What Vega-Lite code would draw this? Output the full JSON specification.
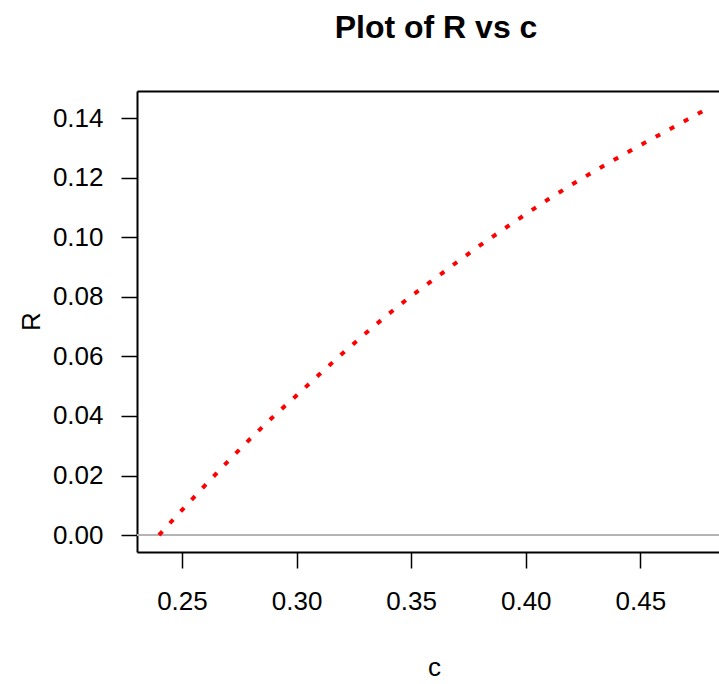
{
  "$schema": "https://vega.github.io/schema/vega-lite/v6.json",
  "autosize": {"type": "none"},
  "padding": {"left": 137, "top": 91, "right": 0, "bottom": 132},
  "width": 582,
  "height": 461,
  "background": "white",
  "config": {"view": {"stroke": null}, "font": "Liberation Sans"},
  "title": {"text": "Plot of R vs c", "fontSize": 32, "font": "Liberation Sans", "fontWeight": "bold", "anchor": "middle", "dx": 8, "offset": 46, "color": "black"},
  "data": {"values": [
    {"c": 0.24, "R": 0.0},
    {"c": 0.25, "R": 0.0084},
    {"c": 0.26, "R": 0.0166},
    {"c": 0.27, "R": 0.0247},
    {"c": 0.28, "R": 0.0325},
    {"c": 0.29, "R": 0.0399},
    {"c": 0.30, "R": 0.0469},
    {"c": 0.31, "R": 0.0540},
    {"c": 0.32, "R": 0.0610},
    {"c": 0.33, "R": 0.0677},
    {"c": 0.34, "R": 0.0742},
    {"c": 0.35, "R": 0.0803},
    {"c": 0.36, "R": 0.0860},
    {"c": 0.37, "R": 0.0917},
    {"c": 0.38, "R": 0.0973},
    {"c": 0.39, "R": 0.1026},
    {"c": 0.40, "R": 0.1078},
    {"c": 0.41, "R": 0.1129},
    {"c": 0.42, "R": 0.1177},
    {"c": 0.43, "R": 0.1223},
    {"c": 0.44, "R": 0.1267},
    {"c": 0.45, "R": 0.1310},
    {"c": 0.46, "R": 0.1352},
    {"c": 0.47, "R": 0.1394},
    {"c": 0.48, "R": 0.1436}
  ]},
  "layer": [
    {
      "mark": {"type": "rule", "color": "#b4b4b4", "strokeWidth": 1.5},
      "encoding": {
        "y": {"datum": 0, "type": "quantitative"}
      }
    },
    {
      "mark": {"type": "line", "color": "#ff0000", "strokeWidth": 4, "strokeDash": [5, 11], "strokeCap": "butt"},
      "encoding": {
        "x": {"field": "c", "type": "quantitative",
          "scale": {"domain": [0.2304, 0.4843], "nice": false, "zero": false},
          "axis": {"orient": "bottom", "values": [0.25, 0.30, 0.35, 0.40, 0.45], "format": ".2f", "grid": false,
            "domainColor": "black", "domainWidth": 2, "tickColor": "black", "tickWidth": 1.5, "tickSize": 16,
            "labelFontSize": 26, "labelFont": "Liberation Sans", "labelColor": "black", "labelPadding": 20,
            "title": "c", "titleFontSize": 26, "titleFont": "Liberation Sans", "titleFontWeight": "normal", "titleColor": "black",
            "titleX": 297, "titleY": 123, "titleBaseline": "alphabetic"}},
        "y": {"field": "R", "type": "quantitative",
          "scale": {"domain": [-0.0057, 0.1492], "nice": false, "zero": false},
          "axis": {"orient": "left", "values": [0, 0.02, 0.04, 0.06, 0.08, 0.10, 0.12, 0.14], "format": ".2f", "grid": false,
            "domainColor": "black", "domainWidth": 2, "tickColor": "black", "tickWidth": 1.5, "tickSize": 16,
            "labelFontSize": 26, "labelFont": "Liberation Sans", "labelColor": "black", "labelPadding": 18,
            "title": "R", "titleFontSize": 26, "titleFont": "Liberation Sans", "titleFontWeight": "normal", "titleColor": "black",
            "titleX": -98, "titleY": 230, "titleAngle": -90, "titleBaseline": "alphabetic", "titleAlign": "center"}}
      }
    },
    {
      "mark": {"type": "point", "opacity": 0},
      "encoding": {
        "x": {"field": "c", "type": "quantitative",
          "axis": {"orient": "top", "labels": false, "ticks": false, "grid": false, "title": null, "domainColor": "black", "domainWidth": 2}}
      }
    }
  ],
  "resolve": {"axis": {"x": "independent"}}
}
